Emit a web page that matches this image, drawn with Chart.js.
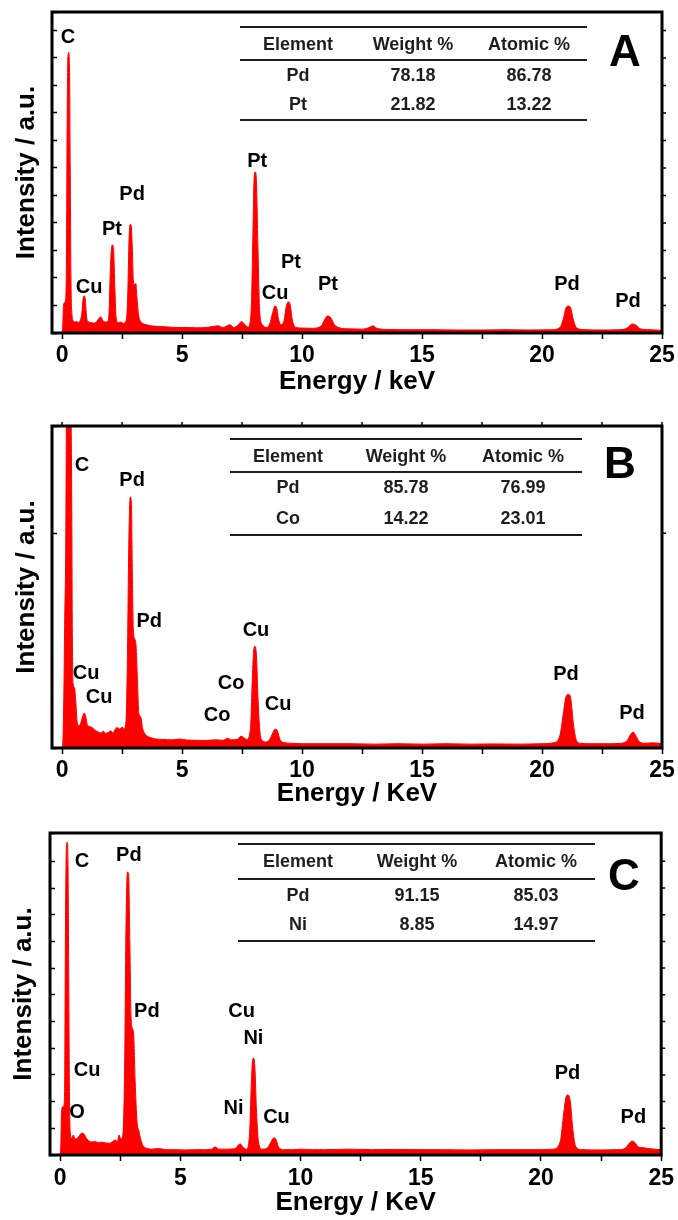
<!DOCTYPE html>
<html>
<head>
<meta charset="utf-8">
<script src="https://cdn.jsdelivr.net/npm/chart.js@4.4.0/dist/chart.umd.min.js"></script>
<style>
  body { margin: 0; background: #fff; }
  .panel { position: relative; width: 678px; }
</style>
</head>
<body>
<div class="panel" style="height:406px"><canvas id="chartA"></canvas></div>
<div class="panel" style="height:407px"><canvas id="chartB"></canvas></div>
<div class="panel" style="height:407px"><canvas id="chartC"></canvas></div>
<script>
// EDS spectra: [energy keV, intensity (x1000 counts)]
var spectrumA = [
  [0,0],[0.03,0.3],[0.06,1.0],[0.1,1.1],[0.14,1.2],[0.18,2.5],[0.21,7.5],[0.24,10.0],[0.28,10.2],[0.31,9.6],
  [0.34,6.0],[0.37,2.0],[0.41,0.7],[0.46,0.45],[0.52,0.4],[0.6,0.42],[0.68,0.38],[0.75,0.45],[0.82,0.7],[0.87,1.2],
  [0.92,1.35],[0.97,1.2],[1.02,0.6],[1.08,0.42],[1.2,0.38],[1.32,0.36],[1.45,0.42],[1.55,0.55],[1.62,0.58],[1.7,0.45],
  [1.8,0.4],[1.9,0.42],[1.96,0.8],[2.0,2.0],[2.05,3.0],[2.1,3.2],[2.15,3.0],[2.2,1.6],[2.26,0.5],[2.35,0.38],
  [2.45,0.4],[2.55,0.35],[2.68,0.5],[2.74,1.5],[2.79,3.4],[2.84,3.95],[2.88,3.9],[2.93,3.0],[2.97,1.9],[3.02,1.75],
  [3.07,1.8],[3.12,1.3],[3.18,0.7],[3.25,0.45],[3.35,0.35],[3.5,0.3],[3.7,0.26],[4.0,0.24],[4.4,0.22],[4.8,0.2],
  [5.2,0.2],[5.6,0.19],[6.0,0.2],[6.3,0.24],[6.5,0.26],[6.7,0.2],[6.9,0.27],[7.0,0.3],[7.15,0.2],[7.35,0.3],
  [7.48,0.42],[7.6,0.32],[7.75,0.22],[7.88,0.8],[7.95,3.5],[8.0,5.6],[8.05,5.85],[8.1,5.5],[8.16,3.2],[8.24,0.7],
  [8.35,0.3],[8.5,0.2],[8.65,0.32],[8.78,0.75],[8.86,0.98],[8.93,0.95],[9.02,0.5],[9.12,0.3],[9.25,0.45],[9.35,1.0],
  [9.43,1.13],[9.5,1.05],[9.6,0.45],[9.75,0.2],[10.0,0.18],[10.4,0.17],[10.8,0.25],[10.95,0.5],[11.07,0.62],[11.2,0.55],
  [11.35,0.3],[11.6,0.18],[12.0,0.15],[12.5,0.14],[12.8,0.2],[12.95,0.26],[13.1,0.18],[13.5,0.13],[14.5,0.12],[15.5,0.12],
  [16.5,0.11],[17.5,0.11],[18.5,0.12],[19.5,0.11],[20.4,0.12],[20.75,0.2],[20.9,0.55],[21.0,0.92],[21.1,0.98],[21.2,0.9],
  [21.3,0.5],[21.45,0.18],[21.8,0.12],[22.5,0.11],[23.2,0.12],[23.55,0.18],[23.7,0.3],[23.8,0.33],[23.92,0.28],[24.1,0.15],
  [24.5,0.12],[25,0.1]
];
var spectrumB = [
  [0,0],[0.04,0.5],[0.08,3.0],[0.11,6.0],[0.15,9],[0.19,17],[0.26,19],[0.34,18],[0.4,12],[0.43,5],
  [0.46,3.0],[0.52,2.8],[0.57,2.2],[0.62,1.3],[0.68,1.05],[0.76,1.1],[0.85,1.45],[0.92,1.63],[0.98,1.5],[1.05,1.1],
  [1.15,1.0],[1.25,0.95],[1.35,0.85],[1.5,0.75],[1.62,0.7],[1.72,0.78],[1.82,0.68],[1.92,0.72],[2.02,0.8],[2.12,0.7],
  [2.2,0.85],[2.3,0.95],[2.4,0.88],[2.5,0.98],[2.58,0.9],[2.66,1.2],[2.72,4.0],[2.78,9.5],[2.84,11.7],[2.89,11.4],
  [2.93,8.0],[2.97,5.5],[3.02,5.1],[3.08,4.8],[3.14,3.2],[3.2,1.6],[3.28,1.45],[3.35,0.95],[3.42,0.72],[3.55,0.55],
  [3.7,0.48],[3.9,0.42],[4.2,0.4],[4.6,0.38],[4.9,0.42],[5.2,0.37],[5.6,0.36],[6.0,0.35],[6.4,0.38],[6.7,0.36],
  [6.9,0.45],[7.05,0.38],[7.3,0.4],[7.45,0.55],[7.55,0.5],[7.7,0.4],[7.85,0.9],[7.93,3.3],[7.99,4.6],[8.04,4.74],
  [8.1,4.3],[8.17,2.2],[8.25,0.7],[8.35,0.35],[8.5,0.28],[8.65,0.4],[8.78,0.7],[8.88,0.88],[8.97,0.8],[9.08,0.4],
  [9.25,0.25],[9.6,0.22],[10,0.2],[11,0.2],[12,0.2],[13,0.18],[14,0.2],[15,0.18],[16,0.2],[17,0.18],
  [18,0.19],[19,0.18],[20,0.2],[20.5,0.25],[20.75,0.6],[20.9,1.7],[21.0,2.4],[21.1,2.5],[21.2,2.3],[21.3,1.2],
  [21.42,0.4],[21.6,0.22],[22,0.2],[22.8,0.2],[23.3,0.22],[23.55,0.35],[23.7,0.65],[23.8,0.74],[23.92,0.55],[24.05,0.3],
  [24.3,0.22],[24.6,0.24],[25,0.2]
];
var spectrumC = [
  [0,0],[0.03,0.4],[0.06,1.6],[0.1,1.8],[0.15,1.84],[0.19,2.5],[0.22,8],[0.26,11.5],[0.3,11.72],[0.33,10.8],
  [0.36,6.5],[0.39,2.2],[0.43,0.8],[0.48,0.62],[0.55,0.75],[0.62,0.6],[0.7,0.62],[0.8,0.72],[0.9,0.82],[1.0,0.78],
  [1.1,0.62],[1.2,0.52],[1.32,0.49],[1.45,0.5],[1.6,0.47],[1.75,0.48],[1.9,0.45],[2.05,0.44],[2.18,0.5],[2.3,0.56],
  [2.38,0.5],[2.45,0.75],[2.52,0.6],[2.6,0.7],[2.68,3.0],[2.74,8.5],[2.8,10.6],[2.85,10.5],[2.9,8.0],[2.95,5.2],
  [3.0,4.76],[3.06,4.5],[3.12,2.8],[3.2,1.24],[3.28,0.9],[3.36,0.56],[3.45,0.35],[3.6,0.25],[3.8,0.22],[4.1,0.24],
  [4.4,0.2],[4.8,0.2],[5.2,0.19],[5.6,0.2],[6.0,0.2],[6.3,0.22],[6.45,0.3],[6.6,0.22],[7.0,0.22],[7.3,0.25],
  [7.42,0.38],[7.5,0.41],[7.6,0.3],[7.75,0.22],[7.88,0.8],[7.95,2.6],[8.0,3.5],[8.05,3.63],[8.1,3.3],[8.17,1.6],
  [8.25,0.5],[8.4,0.22],[8.6,0.25],[8.75,0.45],[8.88,0.64],[8.97,0.6],[9.08,0.3],[9.3,0.2],[9.7,0.2],[10,0.22],
  [10.5,0.2],[11,0.2],[12,0.22],[13,0.2],[14,0.21],[15,0.2],[16,0.2],[17,0.19],[18,0.2],[19,0.2],
  [20,0.2],[20.5,0.22],[20.8,0.5],[20.95,1.6],[21.05,2.2],[21.12,2.25],[21.22,2.0],[21.32,1.0],[21.45,0.3],[21.7,0.2],
  [22.5,0.19],[23.2,0.2],[23.5,0.25],[23.68,0.45],[23.8,0.52],[23.92,0.45],[24.05,0.3],[24.2,0.28],[24.4,0.25],[24.7,0.22],
  [25,0.2]
];

// peak labels: [element, keV, intensity]
var peaksA = [
  ['C',0.25,10.73],['Cu',1.13,1.67],['Pt',2.08,3.78],['Pd',2.92,5.02],['Pt',8.13,6.25],
  ['Cu',8.88,1.45],['Pt',9.54,2.58],['Pt',11.08,1.75],['Pd',21.04,1.78],['Pd',23.58,1.13]
];
var peaksB = [
  ['C',0.83,13.16],['Pd',2.92,12.47],['Pd',3.63,5.91],['Cu',8.08,5.49],['Co',7.04,3.02],['Co',6.46,1.53],
  ['Cu',9.0,2.05],['Cu',1.0,3.49],['Cu',1.54,2.37],['Pd',21.0,3.44],['Pd',23.75,1.63]
];
var peaksC = [
  ['C',0.91,11.01],['Pd',2.86,11.2],['Pd',3.61,5.36],['Cu',1.12,3.18],['O',0.7,1.61],['Cu',7.55,5.39],
  ['Ni',8.04,4.38],['Ni',7.21,1.76],['Cu',9.0,1.39],['Pd',21.1,3.07],['Pd',23.84,1.39]
];

// composition tables
var tableHead = ['Element', 'Weight %', 'Atomic %'];
var tableA = [['Pd', '78.18', '86.78'], ['Pt', '21.82', '13.22']];
var tableB = [['Pd', '85.78', '76.99'], ['Co', '14.22', '23.01']];
var tableC = [['Pd', '91.15', '85.03'], ['Ni', '8.85', '14.97']];

var energyTicks = [0, 2.5, 5, 7.5, 10, 12.5, 15, 17.5, 20, 22.5, 25];

var FONT = '"Liberation Sans", Arial, Helvetica, sans-serif';
Chart.defaults.font.family = FONT;

// frame, mirror ticks, peak labels, table and panel letter
var decorPlugin = {
  id: 'decor',
  afterDraw: function (chart, args, o) {
    var ctx = chart.ctx;
    var a = chart.chartArea;
    var xs = chart.scales.x, ys = chart.scales.y;
    ctx.save();

    ctx.strokeStyle = '#000';
    ctx.lineWidth = 3;
    ctx.strokeRect(a.left, a.top, a.right - a.left, a.bottom - a.top);

    ctx.lineWidth = 1.5;
    ctx.beginPath();
    if (o.rightTicks) {
      ys.ticks.forEach(function (t) {
        if (t.value <= 0 || t.value >= ys.max) return;
        var y = ys.getPixelForValue(t.value);
        ctx.moveTo(a.right, y);
        ctx.lineTo(a.right + 4, y);
      });
    }
    if (o.topTicks) {
      xs.ticks.forEach(function (t) {
        var x = xs.getPixelForValue(t.value);
        ctx.moveTo(x, a.top);
        ctx.lineTo(x, a.top - 4);
      });
    }
    ctx.stroke();

    ctx.fillStyle = '#000';
    ctx.textAlign = 'center';
    ctx.textBaseline = 'middle';
    ctx.font = 'bold 20px ' + FONT;
    o.peaks.forEach(function (p) {
      ctx.fillText(p[0], xs.getPixelForValue(p[1]), ys.getPixelForValue(p[2]));
    });

    var t = o.table;
    ctx.strokeStyle = '#1e1e1e';
    ctx.lineWidth = 2;
    ctx.beginPath();
    t.lines.forEach(function (y) {
      ctx.moveTo(t.x1, y);
      ctx.lineTo(t.x2, y);
    });
    ctx.stroke();
    ctx.fillStyle = '#1e1e1e';
    ctx.font = 'bold 18px ' + FONT;
    tableHead.forEach(function (h, i) {
      ctx.fillText(h, t.cols[i], t.rows[0]);
    });
    o.rows.forEach(function (row, r) {
      row.forEach(function (cell, i) {
        ctx.fillText(cell, t.cols[i], t.rows[r + 1]);
      });
    });

    ctx.fillStyle = '#000';
    ctx.font = 'bold 44px ' + FONT;
    ctx.fillText(o.letter[0], o.letter[1], o.letter[2]);
    ctx.restore();
  }
};

function makeChart(id, spectrum, cfg) {
  return new Chart(document.getElementById(id), {
    type: 'line',
    data: {
      datasets: [{
        data: spectrum.map(function (p) { return { x: p[0], y: p[1] }; }),
        borderColor: '#ff0000',
        backgroundColor: '#ff0000',
        borderWidth: 1,
        pointRadius: 0,
        fill: 'origin',
        cubicInterpolationMode: 'monotone'
      }]
    },
    options: {
      responsive: true,
      maintainAspectRatio: false,
      animation: false,
      layout: { padding: { top: cfg.top, right: cfg.right, left: 0, bottom: 0 } },
      plugins: {
        legend: { display: false },
        tooltip: { enabled: false },
        decor: cfg.decor
      },
      scales: {
        x: {
          type: 'linear',
          min: -0.42,
          max: 25,
          afterFit: function (s) { s.height = cfg.xHeight; },
          afterBuildTicks: function (s) {
            s.ticks = energyTicks.map(function (v) { return { value: v }; });
          },
          ticks: {
            autoSkip: false,
            maxRotation: 0,
            padding: cfg.tickPad,
            color: '#000',
            font: { size: 23, weight: 'bold' },
            callback: function (v) { return v % 5 === 0 ? v : ''; }
          },
          grid: { drawOnChartArea: false, tickLength: 6, tickColor: '#000', tickWidth: 1.5 },
          border: { display: false },
          title: {
            display: true,
            text: cfg.xTitle,
            color: '#000',
            font: { size: 26, weight: 'bold' },
            padding: { top: 0, bottom: cfg.xTitlePad }
          }
        },
        y: {
          min: 0,
          max: cfg.yMax,
          afterFit: function (s) { s.width = cfg.left; },
          ticks: { display: false, stepSize: cfg.yStep },
          grid: { drawOnChartArea: false, tickLength: -5, tickColor: '#000', tickWidth: 1.5 },
          border: { display: false },
          title: {
            display: true,
            text: 'Intensity / a.u.',
            color: '#000',
            font: { size: 26, weight: 'bold' },
            padding: { top: cfg.yTitlePad, bottom: 0 }
          }
        }
      }
    },
    plugins: [decorPlugin]
  });
}

makeChart('chartA', spectrumA, {
  top: 12, right: 16, left: 52, xHeight: 73, tickPad: 3, xTitlePad: 9, yTitlePad: 11,
  yMax: 11.67, yStep: 1, xTitle: 'Energy / keV',
  decor: {
    peaks: peaksA, rows: tableA, rightTicks: true, topTicks: false, letter: ['A', 625, 54],
    table: { x1: 240, x2: 587, lines: [27, 60, 120], rows: [45, 76, 105], cols: [298, 413, 529] }
  }
});

makeChart('chartB', spectrumB, {
  top: 20, right: 16, left: 52, xHeight: 65, tickPad: 3, xTitlePad: 4, yTitlePad: 11,
  yMax: 15, yStep: 10, xTitle: 'Energy / KeV',
  decor: {
    peaks: peaksB, rows: tableB, rightTicks: true, topTicks: true, letter: ['B', 620, 60],
    table: { x1: 230, x2: 582, lines: [33, 66, 129], rows: [51, 82, 113], cols: [288, 406, 523] }
  }
});

makeChart('chartC', spectrumC, {
  top: 20, right: 15, left: 50, xHeight: 65, tickPad: 4, xTitlePad: 2, yTitlePad: 8,
  yMax: 12.06, yStep: 1, xTitle: 'Energy / KeV',
  decor: {
    peaks: peaksC, rows: tableC, rightTicks: true, topTicks: false, letter: ['C', 624, 65],
    table: { x1: 238, x2: 595, lines: [31, 66, 128], rows: [49, 83, 112], cols: [298, 417, 536] }
  }
});
</script>
</body>
</html>
